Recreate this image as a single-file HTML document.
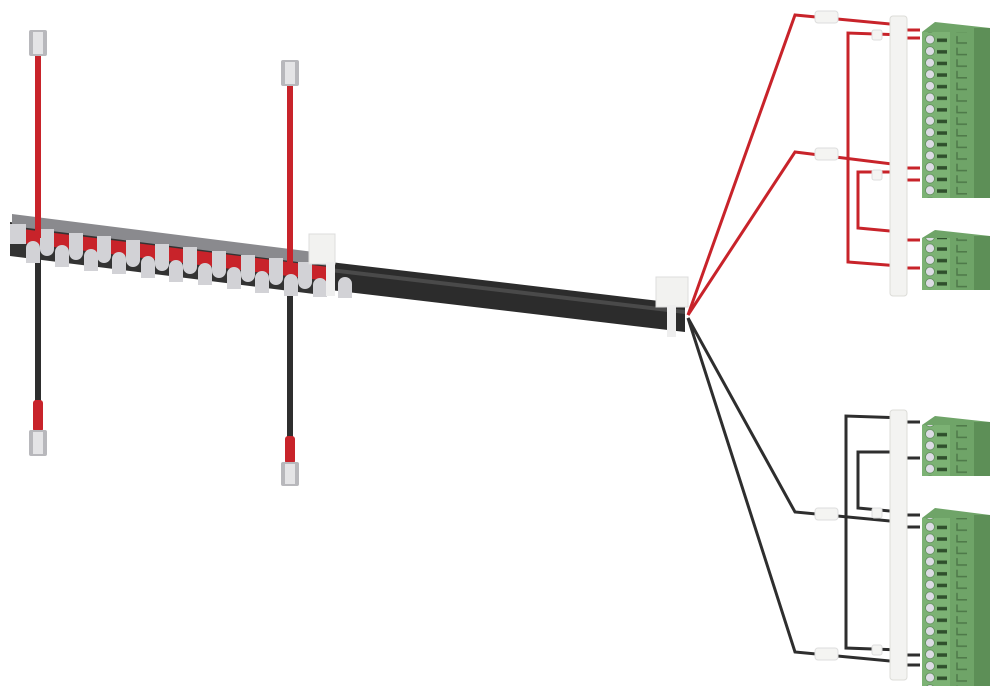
<!DOCTYPE html>
<html><head><meta charset="utf-8"><style>html,body{margin:0;padding:0;background:#fff}svg{display:block}</style></head>
<body>
<svg width="1000" height="696" viewBox="0 0 1000 696" xmlns="http://www.w3.org/2000/svg">
<defs>
<pattern id="pins" x="922" y="34" width="30" height="11.6" patternUnits="userSpaceOnUse">
<circle cx="8" cy="5.5" r="4.5" fill="#dcdce4" stroke="#5f8d5a" stroke-width="0.8"/>
<rect x="15" y="4.5" width="10" height="3.5" fill="#2f4f2c"/>
</pattern>
<pattern id="slots" x="955" y="34" width="20" height="11.6" patternUnits="userSpaceOnUse">
<path d="M2 2 v7 h10" stroke="#4f7a4a" stroke-width="1.5" fill="none"/>
</pattern>
</defs>

<!-- left vertical wires -->
<rect x="35" y="55" width="6" height="185" fill="#c8232a"/>
<rect x="35" y="250" width="6" height="155" fill="#2e2e2e"/>
<rect x="33" y="400" width="10" height="32" rx="3" fill="#c8232a"/>
<rect x="29" y="30" width="18" height="26" rx="2" fill="#b8b8bc"/><rect x="33" y="32" width="10" height="22" fill="#e4e4e6"/>
<rect x="29" y="430" width="18" height="26" rx="2" fill="#b8b8bc"/><rect x="33" y="432" width="10" height="22" fill="#e4e4e6"/>

<rect x="287" y="85" width="6" height="180" fill="#c8232a"/>
<rect x="287" y="275" width="6" height="165" fill="#2e2e2e"/>
<rect x="285" y="436" width="10" height="28" rx="3" fill="#c8232a"/>
<rect x="281" y="60" width="18" height="26" rx="2" fill="#b8b8bc"/><rect x="285" y="62" width="10" height="22" fill="#e4e4e6"/>
<rect x="281" y="462" width="18" height="24" rx="2" fill="#b8b8bc"/><rect x="285" y="464" width="10" height="20" fill="#e4e4e6"/>

<!-- bus bar -->
<polygon points="10,222 330,262 330,296 10,256" fill="#333"/>
<polygon points="12,214 330,254 330,266 12,226" fill="#8a8a8e"/>
<polygon points="14,228 328,267 328,281 14,242" fill="#c8232a"/>
<g fill="#d2d2d6">
<path d="M10 224 h16 v20 h-16z"/>
<path d="M40 229 h14 v20 a7 7 0 0 1 -14 0z M69 233 h14 v20 a7 7 0 0 1 -14 0z M97 236 h14 v20 a7 7 0 0 1 -14 0z M126 240 h14 v20 a7 7 0 0 1 -14 0z M155 244 h14 v20 a7 7 0 0 1 -14 0z M183 247 h14 v20 a7 7 0 0 1 -14 0z M212 251 h14 v20 a7 7 0 0 1 -14 0z M241 255 h14 v20 a7 7 0 0 1 -14 0z M269 258 h14 v20 a7 7 0 0 1 -14 0z M298 262 h14 v20 a7 7 0 0 1 -14 0z"/>
<path d="M26 248 a7 7 0 0 1 14 0 v15 h-14z M55 252 a7 7 0 0 1 14 0 v15 h-14z M84 256 a7 7 0 0 1 14 0 v15 h-14z M112 259 a7 7 0 0 1 14 0 v15 h-14z M141 263 a7 7 0 0 1 14 0 v15 h-14z M169 267 a7 7 0 0 1 14 0 v15 h-14z M198 270 a7 7 0 0 1 14 0 v15 h-14z M227 274 a7 7 0 0 1 14 0 v15 h-14z M255 278 a7 7 0 0 1 14 0 v15 h-14z M284 281 a7 7 0 0 1 14 0 v15 h-14z M313 285 a7 7 0 0 1 14 0 v12 h-14z"/>
</g>
<rect x="35" y="200" width="6" height="38" fill="#c8232a"/>
<rect x="287" y="230" width="6" height="42" fill="#c8232a"/>

<!-- main cable -->
<polygon points="330,262 685,304 685,332 330,290" fill="#2c2c2c"/>
<polygon points="330,268 685,310 685,314 330,272" fill="#4a4a4a"/>
<rect x="309" y="234" width="26" height="30" fill="#f2f2f0" stroke="#ddd"/>
<rect x="326" y="262" width="9" height="34" fill="#eee"/>
<path d="M338 284 a7 7 0 0 1 14 0 v14 h-14z" fill="#d2d2d6"/>
<rect x="656" y="277" width="32" height="30" fill="#f2f2f0" stroke="#ddd"/>
<rect x="667" y="305" width="9" height="32" fill="#eee"/>

<!-- red fan wires -->
<g fill="none" stroke="#c8232a" stroke-width="3">
<path d="M688 315 L795 15 L900 25"/>
<path d="M688 315 L795 152 L900 165"/>
<path d="M905 35 L848 33 L848 262 L900 266"/>
<path d="M905 172 L858 172 L858 228 L900 232"/>
<path d="M905 30 L920 30 M905 38 L920 38 M905 168 L920 168 M905 180 L920 180 M905 240 L920 240 M905 268 L920 268"/>
</g>
<rect x="815" y="11" width="23" height="12" rx="3" fill="#f4f4f2" stroke="#ddd"/>
<rect x="815" y="148" width="23" height="12" rx="3" fill="#f4f4f2" stroke="#ddd"/>
<rect x="872" y="30" width="10" height="10" rx="2" fill="#f4f4f2" stroke="#ddd"/>
<rect x="872" y="170" width="10" height="10" rx="2" fill="#f4f4f2" stroke="#ddd"/>

<!-- black fan wires -->
<g fill="none" stroke="#2e2e2e" stroke-width="3">
<path d="M688 318 L795 512 L900 522"/>
<path d="M688 318 L795 652 L900 662"/>
<path d="M905 418 L846 416 L846 648 L900 650"/>
<path d="M905 452 L858 452 L858 508 L900 512"/>
<path d="M905 422 L920 422 M905 458 L920 458 M905 515 L920 515 M905 527 L920 527 M905 655 L920 655 M905 665 L920 665"/>
</g>
<rect x="815" y="508" width="23" height="12" rx="3" fill="#f4f4f2" stroke="#ddd"/>
<rect x="815" y="648" width="23" height="12" rx="3" fill="#f4f4f2" stroke="#ddd"/>
<rect x="872" y="508" width="10" height="10" rx="2" fill="#f4f4f2" stroke="#ddd"/>
<rect x="872" y="645" width="10" height="10" rx="2" fill="#f4f4f2" stroke="#ddd"/>

<!-- white strips -->
<rect x="890" y="16" width="17" height="280" rx="3" fill="#f3f3f1" stroke="#dcdcd8"/>
<rect x="890" y="410" width="17" height="270" rx="3" fill="#f3f3f1" stroke="#dcdcd8"/>

<!-- green connectors -->
<g>
<polygon points="922,32 935,22 990,28 990,198 922,198" fill="#6fa468"/>
<rect x="922" y="32" width="28" height="166" fill="#7cb274"/>
<rect x="922" y="32" width="28" height="166" fill="url(#pins)"/>
<rect x="953" y="32" width="20" height="166" fill="url(#slots)"/>
<rect x="974" y="28" width="16" height="170" fill="#5d8f57"/>

<polygon points="922,238 935,230 990,236 990,290 922,290" fill="#6fa468"/>
<rect x="922" y="238" width="28" height="52" fill="#7cb274"/>
<rect x="922" y="238" width="28" height="52" fill="url(#pins)"/>
<rect x="953" y="238" width="20" height="52" fill="url(#slots)"/>
<rect x="974" y="236" width="16" height="54" fill="#5d8f57"/>

<polygon points="922,425 935,416 990,422 990,476 922,476" fill="#6fa468"/>
<rect x="922" y="425" width="28" height="51" fill="#7cb274"/>
<rect x="922" y="425" width="28" height="51" fill="url(#pins)"/>
<rect x="953" y="425" width="20" height="51" fill="url(#slots)"/>
<rect x="974" y="422" width="16" height="54" fill="#5d8f57"/>

<polygon points="922,518 935,508 990,515 990,686 922,686" fill="#6fa468"/>
<rect x="922" y="518" width="28" height="168" fill="#7cb274"/>
<rect x="922" y="518" width="28" height="168" fill="url(#pins)"/>
<rect x="953" y="518" width="20" height="168" fill="url(#slots)"/>
<rect x="974" y="515" width="16" height="171" fill="#5d8f57"/>
</g>
</svg>
</body></html>
